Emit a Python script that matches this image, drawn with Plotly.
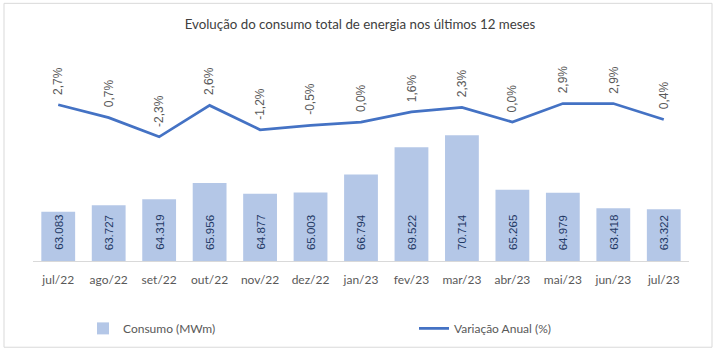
import plotly.graph_objects as go

categories = ["jul/22", "ago/22", "set/22", "out/22", "nov/22", "dez/22", "jan/23",
              "fev/23", "mar/23", "abr/23", "mai/23", "jun/23", "jul/23"]
consumo = [63083, 63727, 64319, 65956, 64877, 65003, 66794, 69522, 70714, 65265, 64979, 63418, 63322]
variacao = [2.7, 0.7, -2.3, 2.6, -1.2, -0.5, 0.0, 1.6, 2.3, 0.0, 2.9, 2.9, 0.4]

W, H = 717, 355
L, R, T, B = 33, 28, 40, 92
pw, ph = W - L - R, H - T - B

y1_min, y1_max = 58160, 80230
y2_min, y2_max = -21.7, 12.82

def px_x(p):
    return (p - L) / pw

def px_y(p):
    return (H - B - p) / ph

fig = go.Figure()
fig.add_trace(go.Bar(
    x=categories, y=consumo, name="Consumo (MWm)",
    marker=dict(color="#B4C7E7", line=dict(width=0)),
    legend="legend", showlegend=True,
))
fig.add_trace(go.Scatter(
    x=categories, y=variacao, name="Variação Anual (%)", yaxis="y2",
    mode="lines", line=dict(color="#4472C4", width=2.75),
    legend="legend2", showlegend=True,
))

annotations = []
for c, v in zip(categories, consumo):
    annotations.append(dict(
        x=c, y=y1_min, xref="x", yref="y", text=f"{v:,.0f}".replace(",", "."),
        textangle=-90, showarrow=False, yanchor="bottom", yshift=9,
        font=dict(family="Liberation Sans, Arial", size=11.5, color="#1F3864"),
    ))
for c, v in zip(categories, variacao):
    annotations.append(dict(
        x=c, y=v, xref="x", yref="y2", text=f"{v:.1f}".replace(".", ",") + "%",
        textangle=-90, showarrow=False, yanchor="bottom", yshift=8,
        font=dict(family="Liberation Sans, Arial", size=12, color="#595959"),
    ))

fig.update_layout(
    width=W, height=H,
    margin=dict(l=L, r=R, t=T, b=B),
    paper_bgcolor="white", plot_bgcolor="white",
    separators=",.",
    bargap=0.33,
    showlegend=True,
    title=dict(text="Evolução do consumo total de energia nos últimos 12 meses",
               x=px_x(360), xref="paper", xanchor="center",
               y=1 - 24 / H, yref="container", yanchor="middle",
               font=dict(family="Lato, Open Sans", size=13.3, color="#404040")),
    xaxis=dict(type="category", showgrid=False, zeroline=False,
               showline=True, linecolor="#D9D9D9", linewidth=1,
               ticks="", ticklabelstandoff=8,
               tickfont=dict(family="Lato, Open Sans", size=12, color="#595959")),
    yaxis=dict(range=[y1_min, y1_max], visible=False, showgrid=False, zeroline=False),
    yaxis2=dict(range=[y2_min, y2_max], overlaying="y", side="right",
                visible=False, showgrid=False, zeroline=False),
    legend=dict(orientation="h", x=px_x(83), xanchor="left", y=px_y(331), yanchor="middle",
                font=dict(family="Lato, Open Sans", size=12, color="#595959"),
                bgcolor="rgba(0,0,0,0)"),
    legend2=dict(orientation="h", x=px_x(414), xanchor="left", y=px_y(331), yanchor="middle",
                 font=dict(family="Lato, Open Sans", size=12, color="#595959"),
                 bgcolor="rgba(0,0,0,0)"),
    annotations=annotations,
    shapes=[dict(type="rect", xref="paper", yref="paper",
                 x0=px_x(4), x1=px_x(712), y0=px_y(350), y1=px_y(3),
                 line=dict(color="#D9D9D9", width=1), fillcolor="rgba(0,0,0,0)",
                 layer="below")],
)

fig.write_html("out.html", config={"displayModeBar": False},
               post_script="document.body.style.margin='0';")
